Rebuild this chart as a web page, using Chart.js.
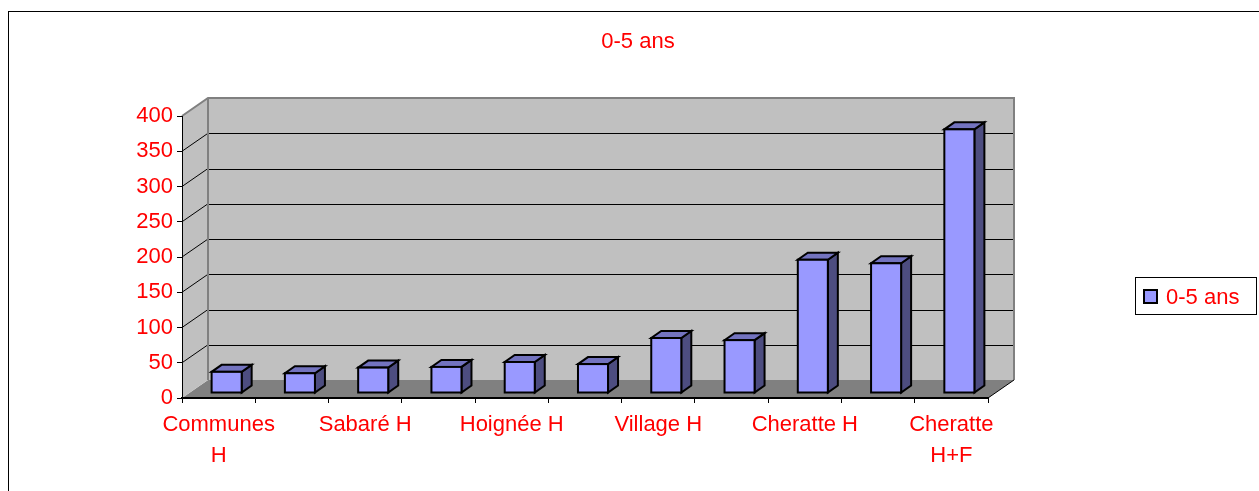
<!DOCTYPE html>
<html lang="fr">
<head>
<meta charset="utf-8">
<title>0-5 ans</title>
<script src="https://cdn.jsdelivr.net/npm/chart.js@4.4.1/dist/chart.umd.min.js"></script>
<style>
  html, body { margin: 0; padding: 0; background: #fff; }
  canvas { display: block; }
</style>
</head>
<body>
<canvas id="chart" width="1259" height="491"></canvas>
<script>
// data
const categories = ['Communes H', 'Communes F', 'Sabaré H', 'Sabaré F', 'Hoignée H', 'Hoignée F',
                    'Village H', 'Village F', 'Cheratte H', 'Cheratte F', 'Cheratte H+F'];
const tickLabels = [['Communes', 'H'], '', 'Sabaré H', '', 'Hoignée H', '', 'Village H', '', 'Cheratte H', '', ['Cheratte', 'H+F']];
const values = [30, 28, 36, 37, 44, 41, 78, 75, 189, 184, 374];
const seriesName = '0-5 ans';
const yMax = 400;
const yStep = 50;

const FONT = "'Liberation Sans', Arial, sans-serif";
const FONT_SIZE = 22;
const RED = '#FF0000';
const DEPTH = { dx: 26, dy: -18 };     // back wall offset
const BAR_SHIFT = { dx: 8, dy: -5 };   // bars stand a little behind the front plane
const BAR_DEPTH = { dx: 10, dy: -7 };

function poly(ctx, pts) {
    ctx.beginPath();
    pts.forEach((p, i) => i ? ctx.lineTo(p[0], p[1]) : ctx.moveTo(p[0], p[1]));
    ctx.closePath();
}

// walls, floor and gridlines of the 3D box
const wallsPlugin = {
    id: 'walls',
    beforeDraw(chart) {
        const { ctx, chartArea: a, scales: { y } } = chart;
        const { dx, dy } = DEPTH;
        ctx.save();
        ctx.strokeStyle = '#000';
        ctx.lineWidth = 1;
        ctx.strokeRect(8.5, 11.5, chart.width + 20, chart.height + 20);

        // floor
        poly(ctx, [[a.left, a.bottom], [a.right, a.bottom], [a.right + dx, a.bottom + dy], [a.left + dx, a.bottom + dy]]);
        ctx.fillStyle = '#808080';
        ctx.fill();
        // side wall
        poly(ctx, [[a.left, a.top], [a.left + dx, a.top + dy], [a.left + dx, a.bottom + dy], [a.left, a.bottom]]);
        ctx.fillStyle = '#C0C0C0';
        ctx.fill();
        // back wall
        ctx.fillRect(a.left + dx, a.top + dy, a.right - a.left, a.bottom - a.top);

        // gridlines
        ctx.strokeStyle = '#000';
        ctx.lineWidth = 1;
        y.ticks.forEach(t => {
            if (t.value <= 0 || t.value >= yMax) return;
            const py = y.getPixelForValue(t.value);
            const by = Math.round(py + dy) + 0.5;
            ctx.beginPath();
            ctx.moveTo(a.left + dx, by);
            ctx.lineTo(a.right + dx, by);
            ctx.moveTo(a.left, py);
            ctx.lineTo(a.left + dx, py + dy);
            ctx.stroke();
        });

        // wall edges
        ctx.strokeStyle = '#808080';
        ctx.lineWidth = 2;
        ctx.beginPath();
        ctx.moveTo(a.left, a.top);
        ctx.lineTo(a.left + dx, a.top + dy);
        ctx.lineTo(a.right + dx, a.top + dy);
        ctx.lineTo(a.right + dx, a.bottom + dy);
        ctx.moveTo(a.left + dx, a.top + dy);
        ctx.lineTo(a.left + dx, a.bottom + dy);
        ctx.stroke();

        ctx.strokeStyle = '#000';
        ctx.lineWidth = 1;
        ctx.beginPath();
        ctx.moveTo(a.right, a.bottom);
        ctx.lineTo(a.right + dx, a.bottom + dy);
        ctx.stroke();
        ctx.restore();
    }
};

// 3D columns drawn from the bar elements
const columnsPlugin = {
    id: 'columns',
    afterDatasetsDraw(chart) {
        const ctx = chart.ctx;
        const meta = chart.getDatasetMeta(0);
        ctx.save();
        ctx.lineWidth = 2;
        ctx.lineJoin = 'miter';
        ctx.strokeStyle = '#000';
        meta.data.forEach(bar => {
            const { x, y, base, width } = bar.getProps(['x', 'y', 'base', 'width'], true);
            const x0 = x - width / 2 + BAR_SHIFT.dx;
            const x1 = x + width / 2 + BAR_SHIFT.dx;
            const yt = y + BAR_SHIFT.dy;
            const yb = base + BAR_SHIFT.dy;
            const { dx, dy } = BAR_DEPTH;

            poly(ctx, [[x1, yt], [x1 + dx, yt + dy], [x1 + dx, yb + dy], [x1, yb]]);
            ctx.fillStyle = '#4D4D80';
            ctx.fill();
            ctx.stroke();
            poly(ctx, [[x0, yt], [x1, yt], [x1 + dx, yt + dy], [x0 + dx, yt + dy]]);
            ctx.fillStyle = '#7373BF';
            ctx.fill();
            ctx.stroke();
            ctx.fillStyle = '#9999FF';
            ctx.fillRect(x0, yt, x1 - x0, yb - yt);
            ctx.strokeRect(x0, yt, x1 - x0, yb - yt);
        });
        ctx.restore();
    }
};

// title and boxed legend
const labelsPlugin = {
    id: 'labels',
    afterDraw(chart) {
        const ctx = chart.ctx;
        ctx.save();
        ctx.font = FONT_SIZE + 'px ' + FONT;
        ctx.fillStyle = RED;
        ctx.textAlign = 'center';
        ctx.textBaseline = 'middle';
        ctx.fillText(seriesName, 638, 42);

        ctx.strokeStyle = '#000';
        ctx.lineWidth = 1;
        ctx.strokeRect(1135.5, 277.5, 121, 37);
        ctx.fillStyle = '#9999FF';
        ctx.fillRect(1144, 290, 13, 13);
        ctx.lineWidth = 2;
        ctx.strokeRect(1144, 290, 13, 13);
        ctx.fillStyle = RED;
        ctx.textAlign = 'left';
        ctx.fillText(seriesName, 1166, 298);
        ctx.restore();
    }
};

new Chart(document.getElementById('chart').getContext('2d'), {
    type: 'bar',
    data: {
        labels: categories,
        datasets: [{
            label: seriesName,
            data: values,
            backgroundColor: 'rgba(0,0,0,0)',
            borderWidth: 0,
            barPercentage: 0.41,
            categoryPercentage: 1
        }]
    },
    options: {
        responsive: false,
        animation: false,
        layout: { padding: { top: 116, right: 271, bottom: 0, left: 0 } },
        plugins: { legend: { display: false }, title: { display: false }, tooltip: { enabled: false } },
        scales: {
            x: {
                afterFit: s => { s.height = 93; },
                grid: { drawOnChartArea: false, drawTicks: true, tickLength: 5, color: '#000', offset: true },
                border: { display: true, color: '#000', width: 2 },
                ticks: {
                    autoSkip: false,
                    maxRotation: 0,
                    padding: 6,
                    color: RED,
                    font: { family: FONT, size: FONT_SIZE, lineHeight: 1.42 },
                    callback: (v, i) => tickLabels[i]
                }
            },
            y: {
                min: 0,
                max: yMax,
                afterFit: s => { s.width = 182; },
                grid: { drawOnChartArea: false, drawTicks: true, tickLength: 5, color: '#000' },
                border: { display: true, color: '#000', width: 1 },
                ticks: {
                    stepSize: yStep,
                    padding: 4,
                    color: RED,
                    font: { family: FONT, size: FONT_SIZE }
                }
            }
        }
    },
    plugins: [wallsPlugin, columnsPlugin, labelsPlugin]
});
</script>
</body>
</html>
